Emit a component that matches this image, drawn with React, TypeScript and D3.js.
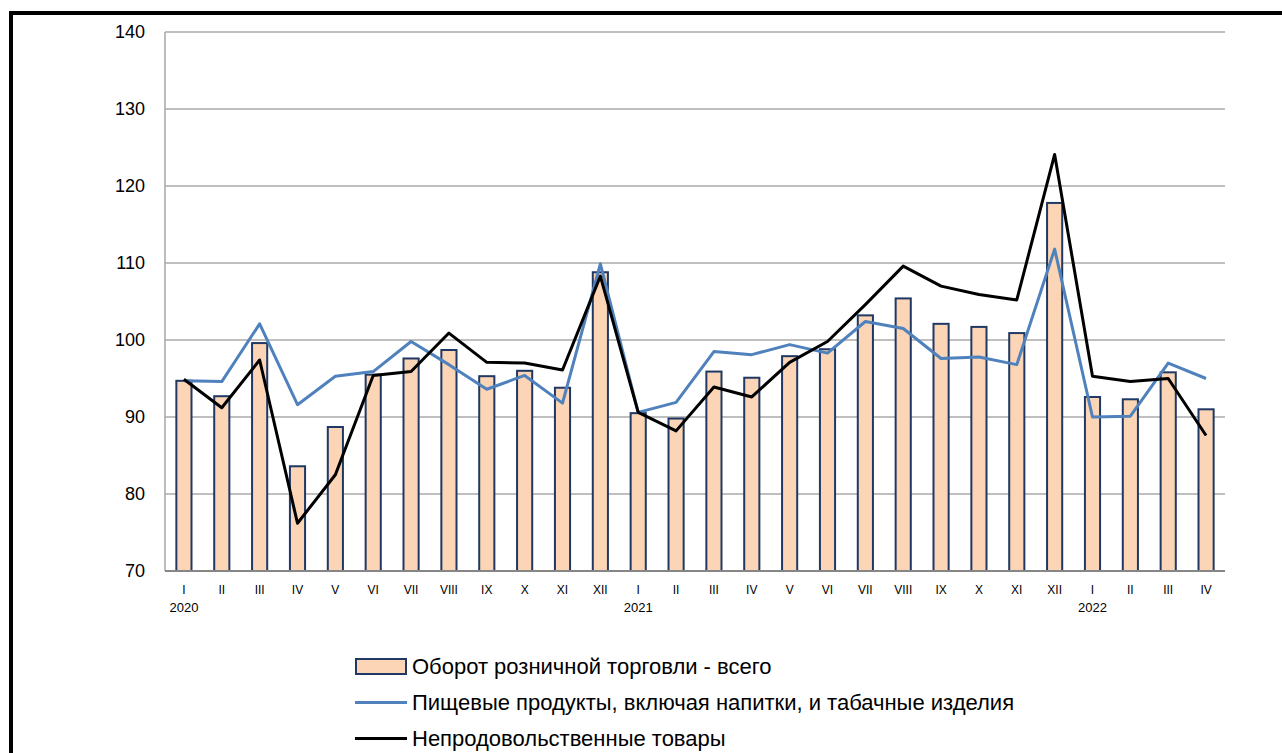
import React from "react";
import * as d3 from "d3";

const months = ["I", "II", "III", "IV", "V", "VI", "VII", "VIII", "IX", "X", "XI", "XII",
  "I", "II", "III", "IV", "V", "VI", "VII", "VIII", "IX", "X", "XI", "XII",
  "I", "II", "III", "IV"];
const years = [{ idx: 0, label: "2020" }, { idx: 12, label: "2021" }, { idx: 24, label: "2022" }];

// Оборот розничной торговли - всего
const total = [94.7, 92.7, 99.6, 83.6, 88.7, 95.5, 97.6, 98.7, 95.3, 96.0, 93.8, 108.8,
  90.5, 89.8, 95.9, 95.1, 97.9, 98.8, 103.2, 105.4, 102.1, 101.7, 100.9, 117.8,
  92.6, 92.3, 95.8, 91.0];
// Пищевые продукты
const food = [94.7, 94.6, 102.1, 91.6, 95.3, 95.9, 99.8, 96.8, 93.6, 95.4, 91.8, 109.9,
  90.6, 91.9, 98.5, 98.1, 99.4, 98.3, 102.4, 101.5, 97.6, 97.8, 96.8, 111.8,
  90.0, 90.1, 97.0, 95.0];
// Непродовольственные товары
const nonFood = [94.9, 91.2, 97.4, 76.2, 82.5, 95.4, 95.9, 100.9, 97.1, 97.0, 96.1, 108.3,
  90.6, 88.2, 93.9, 92.6, 97.1, 99.8, 104.6, 109.6, 107.0, 105.9, 105.2, 124.1,
  95.3, 94.6, 95.0, 87.6];
const yTicks = [70, 80, 90, 100, 110, 120, 130, 140];

const legendItems = [
  { key: "bar", label: "Оборот розничной торговли - всего" },
  { key: "food", label: "Пищевые продукты, включая напитки, и табачные изделия" },
  { key: "nonfood", label: "Непродовольственные товары" },
];

const W = 1282;
const H = 753;
const plot = { left: 165, right: 1225, top: 32, bottom: 571 };
const font = "'Liberation Sans', Arial, sans-serif";

export default function App() {
  const x = d3.scaleBand<number>()
    .domain(d3.range(months.length))
    .range([plot.left, plot.right])
    .padding(0);
  const y = d3.scaleLinear().domain([70, 140]).range([plot.bottom, plot.top]);
  const cx = (i: number) => (x(i) as number) + x.bandwidth() / 2;
  const barW = x.bandwidth() * 0.4;

  const line = d3.line<number>()
    .x((_, i) => cx(i))
    .y((d) => y(d));

  return (
    <svg width={W} height={H} style={{ position: "absolute", left: 0, top: 0, background: "#fff" }}
      fontFamily={font}>
      {/* frame */}
      <line x1={11} y1={11} x2={11} y2={H} stroke="#000" strokeWidth={4} />
      <line x1={9} y1={13} x2={W} y2={13} stroke="#000" strokeWidth={4} />

      {/* gridlines */}
      {yTicks.filter((t) => t > 70).map((t) => (
        <line key={t} x1={plot.left} x2={plot.right} y1={y(t)} y2={y(t)}
          stroke="#bfbfbf" strokeWidth={2} />
      ))}
      <line x1={plot.left} x2={plot.left} y1={plot.top} y2={plot.bottom} stroke="#a6a6a6" strokeWidth={1.5} />

      {/* bars */}
      {total.map((v, i) => (
        <rect key={i} x={cx(i) - barW / 2} y={y(v)} width={barW} height={plot.bottom - y(v)}
          fill="#fbd5b5" stroke="#1f3864" strokeWidth={2} />
      ))}
      <line x1={plot.left} x2={plot.right} y1={plot.bottom} y2={plot.bottom} stroke="#868686" strokeWidth={2} />

      {/* lines */}
      <path d={line(food) || ""} fill="none" stroke="#4f81bd" strokeWidth={3} strokeLinejoin="round" />
      <path d={line(nonFood) || ""} fill="none" stroke="#000" strokeWidth={3} strokeLinejoin="round" />

      {/* y labels */}
      {yTicks.map((t) => (
        <text key={t} x={145} y={y(t)} dy="0.36em" textAnchor="end" fontSize={18} fill="#000">{t}</text>
      ))}

      {/* x labels */}
      {months.map((m, i) => (
        <text key={i} x={cx(i)} y={594} textAnchor="middle" fontSize={12} fill="#000">{m}</text>
      ))}
      {years.map((yr) => (
        <text key={yr.label} x={cx(yr.idx)} y={612} textAnchor="middle" fontSize={13} fill="#000">{yr.label}</text>
      ))}

      {/* legend */}
      {legendItems.map((it, k) => {
        const ly = 666.5 + k * 36;
        return (
          <g key={it.key}>
            {it.key === "bar" && (
              <rect x={356} y={ly - 7.5} width={50} height={15} fill="#fbd5b5" stroke="#1f3864" strokeWidth={2} />
            )}
            {it.key === "food" && (
              <line x1={355} x2={407} y1={ly} y2={ly} stroke="#4f81bd" strokeWidth={3} />
            )}
            {it.key === "nonfood" && (
              <line x1={355} x2={407} y1={ly} y2={ly} stroke="#000" strokeWidth={3} />
            )}
            <text x={412} y={ly + 7} fontSize={22} fill="#000">{it.label}</text>
          </g>
        );
      })}
    </svg>
  );
}
